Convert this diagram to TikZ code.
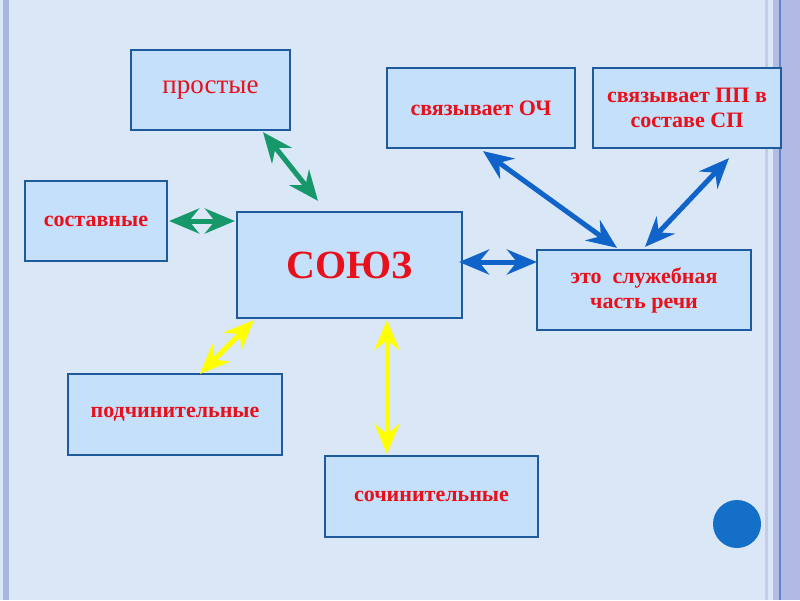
\documentclass[tikz,border=0pt]{standalone}
\usepackage{fontspec}
\setmainfont{Liberation Serif}
\usetikzlibrary{arrows.meta}
\definecolor{bgblue}{HTML}{DAE7F6}
\definecolor{boxfill}{HTML}{C4E0FA}
\definecolor{boxborder}{HTML}{1F5B9C}
\definecolor{txtred}{HTML}{E8101A}
\definecolor{arrgreen}{HTML}{16986A}
\definecolor{arrblue}{HTML}{0F63C9}
\definecolor{arryellow}{HTML}{FFFF00}
\definecolor{stripeA}{HTML}{A9B5DC}
\definecolor{stripeB}{HTML}{C5CBE8}
\definecolor{stripeC}{HTML}{B3BDE3}
\definecolor{stripeD}{HTML}{5F86C8}
\definecolor{stripeE}{HTML}{B0BAE2}
\definecolor{dotblue}{HTML}{146FC9}
\tikzset{
  box/.style={draw=boxborder, fill=boxfill, line width=2.2pt, inner sep=0pt,
    align=center, text=txtred, font=\bfseries\fontsize{22}{25}\selectfont},
  link/.style={line width=5pt, {Stealth[length=30pt,width=25pt,inset=10pt]}-{Stealth[length=30pt,width=25pt,inset=10pt]}},
}
\begin{document}
\begin{tikzpicture}[x=1pt,y=-1pt]
\useasboundingbox (0,0) rectangle (800,600);
% background and frame
\fill[bgblue] (0,0) rectangle (800,600);
\fill[stripeA] (3,0) rectangle (9,600);
\fill[stripeB] (765,0) rectangle (768,600);
\fill[stripeC] (773,0) rectangle (779,600);
\fill[stripeD] (779,0) rectangle (781,600);
\fill[stripeE] (781,0) rectangle (800,600);
% boxes
\node[box, minimum width=159pt, minimum height=80pt, font=\fontsize{27}{30}\selectfont] (prost) at (210.5,90) {простые};
\node[box, minimum width=142pt, minimum height=80pt] (sost) at (96,221) {составные};
\node[box, minimum width=225pt, minimum height=106pt, font=\bfseries\fontsize{40}{44}\selectfont] (soyuz) at (349.5,265) {СОЮЗ};
\node[box, minimum width=188pt, minimum height=80pt] (och) at (481,108) {связывает ОЧ};
\node[box, minimum width=188pt, minimum height=80pt] (pp) at (687,108) {связывает ПП в\\составе СП};
\node[box, minimum width=214pt, minimum height=80pt] (sluzh) at (644,290) {это~ служебная\\часть речи};
\node[box, minimum width=214pt, minimum height=81pt] (podch) at (175,414.5) {подчинительные};
\node[box, minimum width=213pt, minimum height=81pt] (soch) at (431.5,496.5) {сочинительные};
\node[circle, fill=dotblue, minimum size=48pt, inner sep=0pt] (dot) at (737,524) {};
% connectors
\draw[link, arrgreen] ([xshift=52.5pt,yshift=-1pt]prost.south) -- ([xshift=-31.5pt,yshift=10pt]soyuz.north);
\draw[link, arrgreen] ([xshift=1pt]sost.east) -- ([xshift=-1pt,yshift=44pt]soyuz.west);
\draw[link, arrblue] ([xshift=-4pt,yshift=3pt]soyuz.east) -- ([xshift=1pt,yshift=28pt]sluzh.west);
\draw[link, arrblue] ([xshift=2pt,yshift=-2pt]och.south) -- ([xshift=-27pt,yshift=1pt]sluzh.north);
\draw[link, arrblue] ([xshift=42pt,yshift=-9pt]pp.south) -- ([xshift=1pt,yshift=2pt]sluzh.north);
\draw[link, arryellow] ([xshift=-95.5pt,yshift=-1pt]soyuz.south) -- ([xshift=25pt,yshift=-1pt]podch.north);
\draw[link, arryellow] ([xshift=37.5pt,yshift=-1pt]soyuz.south) -- ([xshift=-44.5pt,yshift=1pt]soch.north);
\end{tikzpicture}
\end{document}
